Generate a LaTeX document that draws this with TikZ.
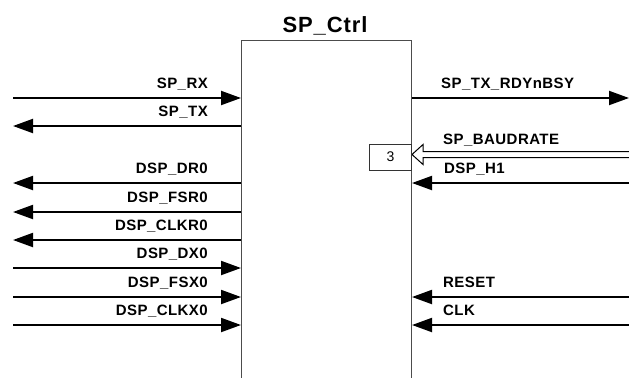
\documentclass[tikz,border=0pt]{standalone}
\usepackage{fontspec}
\setmainfont{Liberation Sans}
\usetikzlibrary{arrows.meta}
\newfontfamily\sigfont[LetterSpace=3]{Liberation Sans}
\newfontfamily\ttlfont[LetterSpace=4]{Liberation Sans}
\tikzset{
  block/.style={draw=black!70, line width=1bp, minimum width=170bp, minimum height=345bp, anchor=north west, inner sep=0pt},
  sig/.style={line width=2bp, -{Triangle[length=20bp, width=14bp]}},
  lbl/.style={font=\sigfont\fontsize{15bp}{17bp}\selectfont\bfseries, inner sep=0pt},
  lblL/.style={lbl, anchor=base east},
  lblR/.style={lbl, anchor=base west},
  ttl/.style={font=\ttlfont\fontsize{22bp}{25bp}\selectfont\bfseries, inner sep=0pt, anchor=base},
  busbox/.style={draw=black!80, line width=0.8bp, minimum width=42bp, minimum height=26bp, inner sep=0pt, font=\fontsize{14bp}{16bp}\selectfont},
  hollow/.style={draw=black, line width=1bp, fill=white}
}
\begin{document}
\begin{tikzpicture}[x=1bp, y=-1bp]
  \useasboundingbox (0,0) rectangle (629,377);
  \clip (0,0) rectangle (629,377);

  % controller block, running off the lower edge
  \node[block] (ctrl) at (241,40) {};
  \node[ttl] (title) at (325,32) {SP\_Ctrl};

  % left-side ports
  \foreach \nm/\y in {rx/98, tx/126, dr/183, fsr/212, clkr/240, dx/268, fsx/297, clkx/325}
    \coordinate (\nm L) at (13,\y);

  \draw[sig] (rxL) -- (rxL -| ctrl.west);
  \draw[sig] (txL -| ctrl.west) -- (txL);
  \draw[sig] (drL -| ctrl.west) -- (drL);
  \draw[sig] (fsrL -| ctrl.west) -- (fsrL);
  \draw[sig] (clkrL -| ctrl.west) -- (clkrL);
  \draw[sig] (dxL) -- (dxL -| ctrl.west);
  \draw[sig] (fsxL) -- (fsxL -| ctrl.west);
  \draw[sig] (clkxL) -- (clkxL -| ctrl.west);

  \node[lblL] (lrx) at (208,88) {SP\_RX};
  \node[lblL] (ltx) at (208,116) {SP\_TX};
  \node[lblL] (ldr) at (208,173) {DSP\_DR0};
  \node[lblL] (lfsr) at (208,202) {DSP\_FSR0};
  \node[lblL] (lclkr) at (208,230) {DSP\_CLKR0};
  \node[lblL] (ldx) at (208,258) {DSP\_DX0};
  \node[lblL] (lfsx) at (208,287) {DSP\_FSX0};
  \node[lblL] (lclkx) at (208,315) {DSP\_CLKX0};

  % right-side ports
  \foreach \nm/\y in {rdy/98, baud/154.5, h1/183, rst/297, clk/325}
    \coordinate (\nm R) at (629,\y);

  \draw[sig] (rdyR -| ctrl.east) -- (rdyR);
  \draw[sig] (h1R) -- (h1R -| ctrl.east);
  \draw[sig] (rstR) -- (rstR -| ctrl.east);
  \draw[sig] (clkR) -- (clkR -| ctrl.east);

  % 3-bit bus input drawn as a hollow arrow
  \draw[hollow] ([yshift=-3bp]baudR) -- ([xshift=11bp,yshift=-3bp]baudR -| ctrl.east)
    -- ([xshift=11bp,yshift=-10bp]baudR -| ctrl.east) -- (baudR -| ctrl.east)
    -- ([xshift=11bp,yshift=10bp]baudR -| ctrl.east) -- ([xshift=11bp,yshift=3bp]baudR -| ctrl.east)
    -- ([yshift=3bp]baudR);
  \node[busbox, anchor=east] (width) at ([yshift=-2.5bp]baudR -| ctrl.east) {3};

  \node[lblR] (lrdy) at (441,88) {SP\_TX\_RDYnBSY};
  \node[lblR] (lbaud) at (443,144) {SP\_BAUDRATE};
  \node[lblR] (lh1) at (444,173) {DSP\_H1};
  \node[lblR] (lrst) at (443,287) {RESET};
  \node[lblR] (lclk) at (443,315) {CLK};
\end{tikzpicture}
\end{document}
